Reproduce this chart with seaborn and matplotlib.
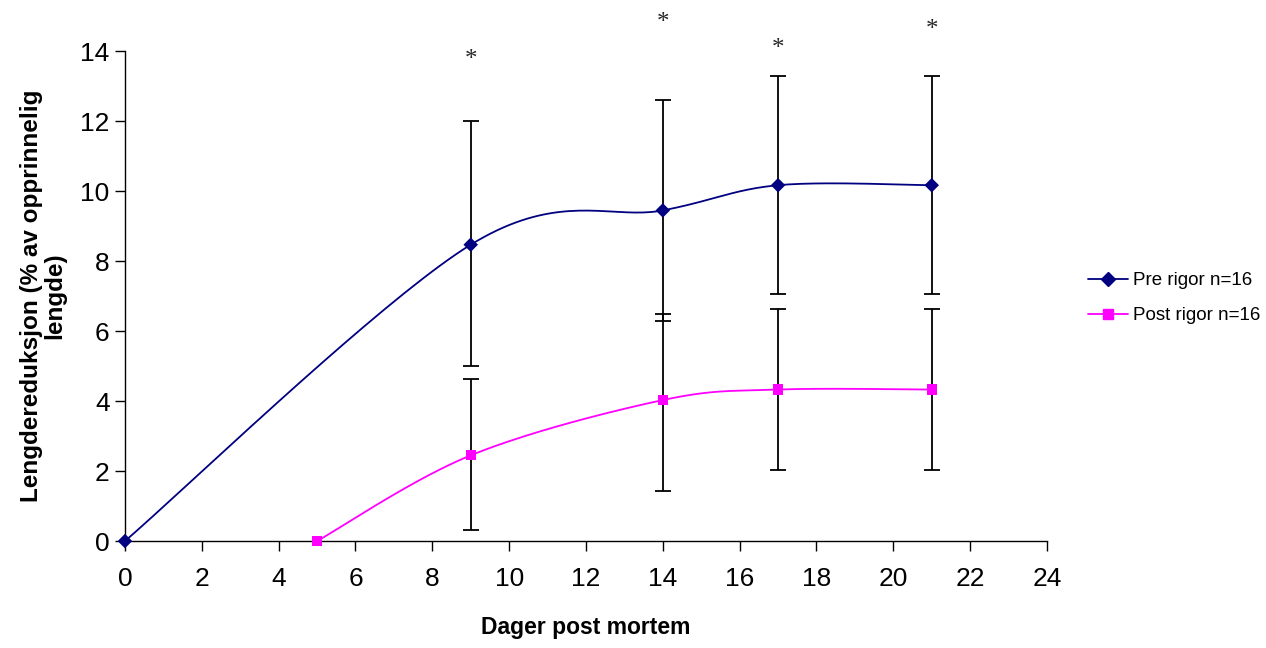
import numpy as np
import pandas as pd
import seaborn as sns
import matplotlib
matplotlib.use("Agg")
import matplotlib.pyplot as plt
from matplotlib.lines import Line2D

# data
pre_days = [0, 9, 14, 17, 21]
pre_vals = [0.0, 8.47, 9.45, 10.17, 10.17]
pre_lo = [None, 5.0, 6.3, 7.05, 7.05]
pre_hi = [None, 12.0, 12.61, 13.28, 13.28]

post_days = [5, 9, 14, 17, 21]
post_vals = [0.0, 2.45, 4.03, 4.33, 4.33]
post_lo = [None, 0.32, 1.44, 2.02, 2.02]
post_hi = [None, 4.62, 6.5, 6.63, 6.63]

star_days = [9, 14, 17, 21]
star_y = [13.75, 14.8, 14.05, 14.6]

pre_label = "Pre rigor n=16"
post_label = "Post rigor n=16"
pre_color = "#000080"
post_color = "#FF00FF"


def smooth(xs, ys, n=40):
    # excel style smoothed line (bezier through the points)
    x = np.asarray(xs, float)
    y = np.asarray(ys, float)
    px = np.concatenate([[x[0]], x, [x[-1]]])
    py = np.concatenate([[y[0]], y, [y[-1]]])
    ox, oy = [], []
    t = np.linspace(0, 1, n)
    for i in range(1, len(px) - 2):
        p0 = np.array([px[i], py[i]])
        p3 = np.array([px[i + 1], py[i + 1]])
        c1 = p0 + (np.array([px[i + 1], py[i + 1]]) - np.array([px[i - 1], py[i - 1]])) / 6
        c2 = p3 - (np.array([px[i + 2], py[i + 2]]) - np.array([px[i], py[i]])) / 6
        pts = ((1 - t) ** 3)[:, None] * p0 + (3 * (1 - t) ** 2 * t)[:, None] * c1 \
            + (3 * (1 - t) * t ** 2)[:, None] * c2 + (t ** 3)[:, None] * p3
        ox.extend(pts[:, 0])
        oy.extend(pts[:, 1])
    return ox, oy


sns.set_style("white")
plt.rcParams['font.family'] = ['Liberation Sans', 'DejaVu Sans']

fig = plt.figure(figsize=(12.66, 6.48), dpi=100)
ax = fig.add_axes([0.0987, 0.165, 0.7283, 0.756])

for days, vals, col in [(pre_days, pre_vals, pre_color), (post_days, post_vals, post_color)]:
    sx, sy = smooth(days, vals)
    curve = pd.DataFrame({"x": sx, "y": sy})
    sns.lineplot(data=curve, x="x", y="y", sort=False, color=col, lw=1.3, ax=ax, estimator=None)

for days, vals, lo, hi in [(pre_days, pre_vals, pre_lo, pre_hi), (post_days, post_vals, post_lo, post_hi)]:
    for d, v, l, h in zip(days, vals, lo, hi):
        if l is None:
            continue
        ax.errorbar(d, v, yerr=[[v - l], [h - v]], fmt="none", ecolor="black",
                    elinewidth=1.3, capsize=6, capthick=1.3, zorder=3)

pts = pd.DataFrame({"x": pre_days + post_days, "y": pre_vals + post_vals,
                    "s": [pre_label] * len(pre_days) + [post_label] * len(post_days)})
sns.scatterplot(data=pts, x="x", y="y", hue="s", style="s",
                palette={pre_label: pre_color, post_label: post_color},
                markers={pre_label: "D", post_label: "s"}, s=55, edgecolor="none",
                ax=ax, legend=False, zorder=4, clip_on=False)

for d, yy in zip(star_days, star_y):
    ax.text(d, yy, "*", ha="center", va="center", fontsize=18,
            family="Liberation Serif", clip_on=False)

ax.set_xlim(0, 24)
ax.set_ylim(0, 14)
ax.set_xticks(range(0, 25, 2))
ax.set_yticks(range(0, 15, 2))
ax.tick_params(axis="both", direction="out", length=7, width=1, labelsize=19,
               bottom=True, left=True, color="black", labelcolor="black")
ax.tick_params(axis="x", pad=12)
ax.tick_params(axis="y", pad=4)
sns.despine(ax=ax)
for sp in ["left", "bottom"]:
    ax.spines[sp].set_color("black")
    ax.spines[sp].set_linewidth(1)

ax.set_xlabel("Dager post mortem", fontsize=16.5, fontweight="bold", labelpad=18, color="black")
ax.set_ylabel("Lengdereduksjon (% av opprinnelig\nlengde)", fontsize=17.5,
              fontweight="bold", labelpad=10, linespacing=1.0, color="black")

handles = [Line2D([0], [0], color=pre_color, lw=1.3, marker="D", markersize=7),
           Line2D([0], [0], color=post_color, lw=1.3, marker="s", markersize=7)]
fig.legend(handles, [pre_label, post_label], loc="center left",
           bbox_to_anchor=(0.8594, 0.54), frameon=False, fontsize=13.5,
           handlelength=2.13, handletextpad=0.27, labelspacing=0.95,
           borderpad=0, borderaxespad=0, labelcolor="black")

fig.savefig("out.png", dpi=100)
